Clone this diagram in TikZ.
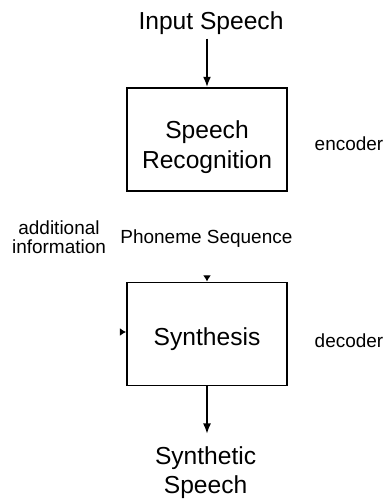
\documentclass[tikz,border=0pt]{standalone}
\usepackage{fontspec}
\setmainfont{Liberation Sans}
\usepackage{tikz}
\usetikzlibrary{arrows.meta, positioning, calc}
\newcommand{\bigtxt}{\fontsize{17.5}{21}\selectfont}
\newcommand{\smalltxt}{\fontsize{13.5}{13.5}\selectfont}
\tikzset{
    block/.style={
        rectangle, draw=black, line width=1.2pt, minimum width=4.0cm,
        minimum height=2.575cm
    },
    label_big/.style={
        align=center, inner sep=0.1cm, font=\bigtxt
    },
    label_small/.style={
        align=center, inner sep=0.1cm, font=\smalltxt
    },
    arrow/.style={
        line width=1.2pt, -{Latex[length=2.6mm, width=2mm]}
    },
    arrow_stub/.style={
        line width=1pt, -{Latex[length=1.6mm, width=2mm]}
    }
}
\begin{document}
\begin{tikzpicture}
    \useasboundingbox (0,0) rectangle (9.625,-12.475);
    % Entrada
    \node[label_big] (input) at (5.275, -0.57) {Input Speech};

    % Codificador
    \node[block] (recog) at (5.175, -3.4875) {};
    \node[label_big] (recog_txt) at ($(recog)+(0,-0.19)$) {Speech\\Recognition};
    \node[label_small] (enc) at (8.725, -3.6) {encoder};
    \draw[arrow] (input.south -| recog.north) -- (recog.north);

    % Secuencia intermedia
    \node[label_small] (phon) at (5.16, -5.96) {Phoneme Sequence};
    \node[label_small] (addinfo) at (1.475, -5.93) {additional\\information};

    % Decodificador
    \node[block] (synth) at (5.175, -8.35) {};
    \node[label_big] (synth_txt) at ($(synth)+(0,-0.14)$) {Synthesis};
    \node[label_small] (dec) at (8.725, -8.525) {decoder};
    \coordinate (phon_in) at (5.175, -6.92);
    \coordinate (add_in) at (3.025, -8.3);
    \draw[arrow_stub] (phon_in) -- (synth.north);
    \draw[arrow_stub] (add_in) -- (add_in -| synth.west);

    % Salida
    \node[label_big] (output) at (5.14, -11.81) {Synthetic\\Speech};
    \draw[arrow, shorten >=0.2cm] (synth.south) -- (synth.south |- output.north);
\end{tikzpicture}
\end{document}
